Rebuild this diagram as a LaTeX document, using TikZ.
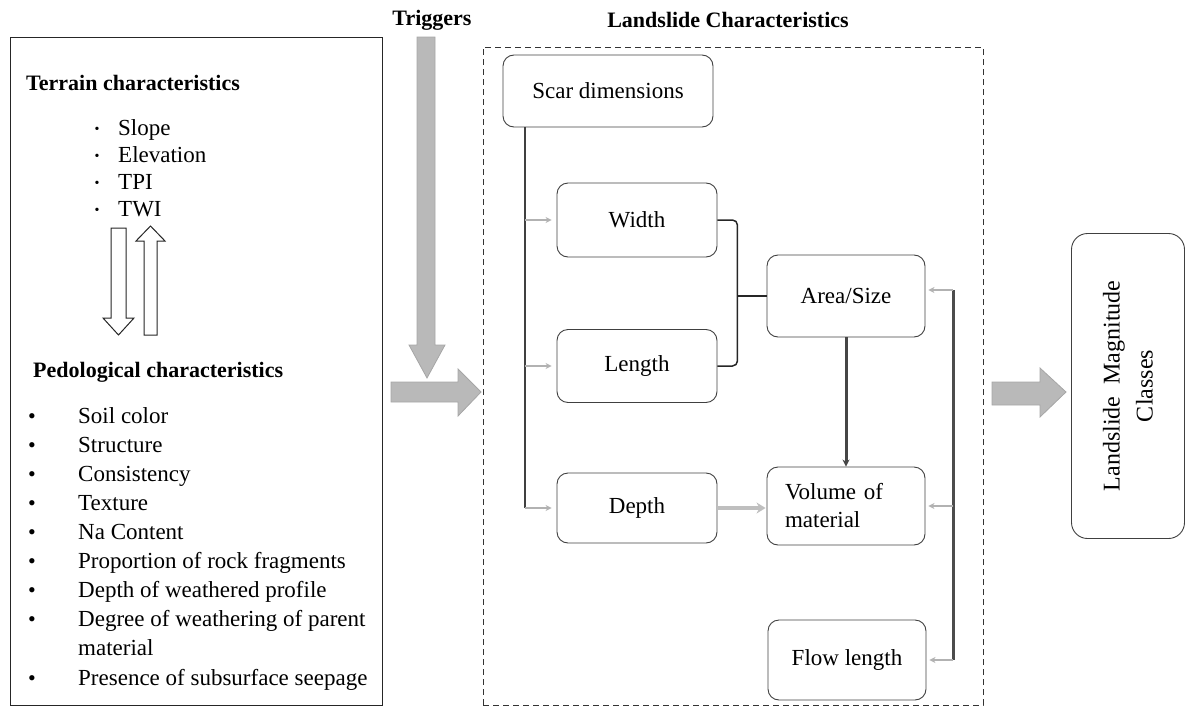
\documentclass[tikz,border=0pt]{standalone}
\usepackage{fontspec}
\setmainfont{Liberation Serif}
\usetikzlibrary{arrows.meta, positioning, calc}

\begin{document}
\begin{tikzpicture}[x=1pt, y=-1pt,
    txt/.style={font=\fontsize{23}{29}\selectfont, inner sep=0pt},
    head/.style={font=\fontsize{22}{26}\selectfont\bfseries, inner sep=0pt},
    dot/.style={font=\fontsize{14}{14}\selectfont, inner sep=0pt},
    bigdot/.style={font=\fontsize{22}{22}\selectfont, inner sep=0pt},
    box/.style={draw=black!75, rounded corners=11pt, line width=0.9pt, font=\fontsize{23}{28}\selectfont, minimum width=160pt},
    bigarrow/.style={fill=gray!55, draw=gray!70, line width=0.8pt},
    hollow/.style={draw=black!85, line width=1pt, fill=white},
    feed/.style={-{Stealth[length=6pt,width=6pt]}, draw=gray!60, line width=1.6pt, shorten >=5pt},
    back/.style={-{Stealth[length=6pt,width=6pt]}, draw=gray!60, line width=1.6pt, shorten >=3pt},
    trunk/.style={draw=black!75, line width=2pt},
    link/.style={draw=black!85, line width=1.5pt},
    drop/.style={-{Stealth[length=7pt,width=7pt]}, draw=gray!55!black, line width=3pt},
    pipe/.style={-{Stealth[length=9pt,width=11pt]}, draw=gray!50, line width=4pt, shorten >=1pt},
    railline/.style={draw=gray!60!black, line width=2.2pt}
]
    \useasboundingbox (0,0) rectangle (1187,707);

    % frames
    \node[draw=black!85, line width=1pt, minimum width=372pt, minimum height=668pt, inner sep=0pt] (factors) at (196,371) {};
    \node[draw=black!80, dash pattern=on 6pt off 4pt, line width=0.9pt, minimum width=500pt, minimum height=658pt, inner sep=0pt] (lschar) at (733,376) {};

    % titles
    \node[head, anchor=base] (trig) at (432,25) {Triggers};
    \node[head, anchor=base] (lstitle) at (728,27) {Landslide Characteristics};

    % terrain
    \node[head, anchor=base west] (terrain) at (26,90) {Terrain characteristics};
    \node[dot, anchor=base] (tb1) at (97,133) {\textbullet};
    \node[txt, anchor=base west] (t1) at (118,135) {Slope};
    \node[dot, anchor=base] (tb2) at (97,160) {\textbullet};
    \node[txt, anchor=base west] (t2) at (118,162) {Elevation};
    \node[dot, anchor=base] (tb3) at (97,187) {\textbullet};
    \node[txt, anchor=base west] (t3) at (118,189) {TPI};
    \node[dot, anchor=base] (tb4) at (97,214) {\textbullet};
    \node[txt, anchor=base west] (t4) at (118,216) {TWI};

    % two-way link
    \draw[hollow] (111,228) -- (126,228) -- (126,318) -- (134,318) -- (118.5,335) -- (103,318) -- (111,318) -- cycle;
    \draw[hollow] (144,335) -- (157,335) -- (157,241) -- (165,241) -- (150.5,226) -- (136,241) -- (144,241) -- cycle;

    % pedology
    \node[head, anchor=base west] (pedo) at (33,377) {Pedological characteristics};
    \node[bigdot, anchor=base] (pb1) at (32,423) {\textbullet};
    \node[txt, anchor=base west] (p1) at (78,423) {Soil color};
    \node[bigdot, anchor=base] (pb2) at (32,452) {\textbullet};
    \node[txt, anchor=base west] (p2) at (78,452) {Structure};
    \node[bigdot, anchor=base] (pb3) at (32,481) {\textbullet};
    \node[txt, anchor=base west] (p3) at (78,481) {Consistency};
    \node[bigdot, anchor=base] (pb4) at (32,510) {\textbullet};
    \node[txt, anchor=base west] (p4) at (78,510) {Texture};
    \node[bigdot, anchor=base] (pb5) at (32,539) {\textbullet};
    \node[txt, anchor=base west] (p5) at (78,539) {Na Content};
    \node[bigdot, anchor=base] (pb6) at (32,568) {\textbullet};
    \node[txt, anchor=base west] (p6) at (78,568) {Proportion of rock fragments};
    \node[bigdot, anchor=base] (pb7) at (32,597) {\textbullet};
    \node[txt, anchor=base west] (p7) at (78,597) {Depth of weathered profile};
    \node[bigdot, anchor=base] (pb8) at (32,626) {\textbullet};
    \node[txt, anchor=base west] (p8) at (78,626) {Degree of weathering of parent};
    \node[txt, anchor=base west] (p8b) at (78,655) {material};
    \node[bigdot, anchor=base] (pb9) at (32,685) {\textbullet};
    \node[txt, anchor=base west] (p9) at (78,685) {Presence of subsurface seepage};

    % grey arrows
    \draw[bigarrow] (417,37) -- (435,37) -- (435,345) -- (445,345) -- (427,378) -- (409,345) -- (417,345) -- cycle;
    \draw[bigarrow] (391,382) -- (458,382) -- (458,369) -- (481,392) -- (458,416) -- (458,402) -- (391,402) -- cycle;
    \draw[bigarrow] (992,382) -- (1040,382) -- (1040,368) -- (1066,392) -- (1040,417) -- (1040,405) -- (992,405) -- cycle;

    % landslide boxes
    \node[box, minimum width=210pt, minimum height=72pt] (scar) at (608,91) {Scar dimensions};
    \node[box, minimum height=74pt] (width) at (637,220) {Width};
    \node[box, minimum height=73pt] (length) at (637,366) {Length};
    \node[box, minimum width=158pt, minimum height=82pt] (area) at (846,296) {Area/Size};
    \node[box, minimum height=70pt] (depth) at (637,508) {Depth};
    \node[box, minimum width=158pt, minimum height=78pt, text width=122pt, align=left] (volume) at (846,506) {Volume of\\material};
    \node[box, minimum width=158pt, minimum height=80pt] (flow) at (847,660) {Flow length};
    \node[box, rounded corners=16pt, rotate=90, minimum width=305pt, minimum height=113pt, align=center, font=\fontsize{24}{33}\selectfont] (classes) at (1128,386) {Landslide\ \ Magnitude\\Classes};

    % scar dimensions split
    \coordinate (spine) at ([xshift=22pt]scar.south west);
    \draw[trunk] (spine) -- (spine |- depth.west);
    \foreach \n in {width, length, depth}
        \draw[feed] (spine |- \n.west) -- (\n.west);

    % width and length give area
    \coordinate (brace) at ([xshift=20pt]width.east);
    \draw[link, rounded corners=5pt] (width.east) -| (brace |- length.east) -- (length.east);
    \draw[link] (brace |- area.west) -- (area.west);

    \draw[drop] (area.south) -- (volume.north);
    \draw[pipe] (depth.east) -- (depth.east -| volume.west);

    % return rail
    \coordinate (rail) at ([xshift=28pt, yshift=6pt]area.east);
    \draw[railline] (rail) -- (rail |- flow.east);
    \draw[back] (rail) -- (rail -| area.east);
    \draw[back] (rail |- volume.east) -- (volume.east);
    \draw[back] (rail |- flow.east) -- (flow.east);
\end{tikzpicture}
\end{document}
